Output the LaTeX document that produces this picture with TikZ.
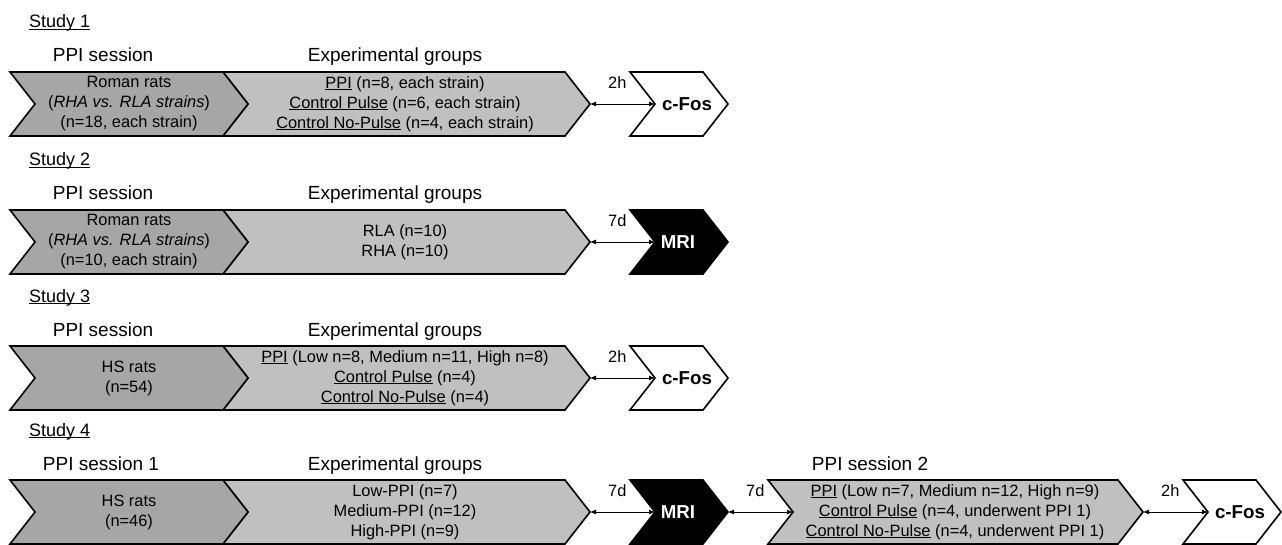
\documentclass[tikz,border=0pt]{standalone}
\usepackage{fontspec}
\setmainfont{Liberation Sans}
\usepackage{xcolor}
\usepackage{tikz}
\usetikzlibrary{arrows.meta}

\definecolor{darkgrey}{RGB}{166,166,166}
\definecolor{lightgrey}{RGB}{192,192,192}
\newcommand{\uln}[1]{\underline{\smash{#1}}}
\newcommand{\chevron}[5]{%
\draw[chev, fill=#5] (#2,#4) -- ({#3-25},#4) -- (#3,{#4+32}) -- ({#3-25},{#4+64}) -- (#2,{#4+64}) -- ({#2+25},{#4+32}) -- cycle;
\coordinate (#1-in) at ({#2+25},{#4+32});
\coordinate (#1-tip) at (#3,{#4+32});}

\begin{document}
\begin{tikzpicture}[x=1pt, y=-1pt,
chev/.style={draw=black, line width=1.6pt},
boxtext/.style={align=center, font=\fontsize{16.4}{20}\selectfont, inner sep=0pt},
heading/.style={anchor=base, font=\fontsize{19}{23}\selectfont, inner sep=0pt},
studylabel/.style={anchor=base west, font=\fontsize{18}{22}\selectfont, inner sep=0pt},
endtext/.style={font=\fontsize{18.7}{22}\selectfont\bfseries, inner sep=0pt},
gap/.style={<->, >={Latex[length=6pt,width=5pt]}, line width=0.8pt},
gaplabel/.style={pos=0.42, yshift=21pt, font=\fontsize{16.4}{20}\selectfont, inner sep=0pt}]
\useasboundingbox (0,0) rectangle (1282,545);

\node[studylabel] (study1) at (29,28) {\uln{Study 1}};
\node[heading] (ppi1) at (103,62) {PPI session};
\node[heading] (exp1) at (395,62) {Experimental groups};
\chevron{r1b}{223}{590}{72}{lightgrey}
\chevron{r1a}{10}{248}{72}{darkgrey}
\chevron{r1c}{630}{728}{72}{white}
\node[boxtext] (rats1) at (129,104) {Roman rats\\(\textit{RHA vs. RLA strains})\\(n=18, each strain)};
\node[boxtext] (groups1) at (405,104) {\uln{PPI} (n=8, each strain)\\\uln{Control Pulse} (n=6, each strain)\\\uln{Control No-Pulse} (n=4, each strain)};
\node[endtext] (fos1) at (687,104) {c-Fos};
\draw[gap] (r1b-tip) -- node[gaplabel] (wait1) {2h} (r1c-in);

\node[studylabel] (study2) at (29,166) {\uln{Study 2}};
\node[heading] (ppi2) at (103,200) {PPI session};
\node[heading] (exp2) at (395,200) {Experimental groups};
\chevron{r2b}{223}{590}{210}{lightgrey}
\chevron{r2a}{10}{248}{210}{darkgrey}
\chevron{r2c}{630}{728}{210}{black}
\node[boxtext] (rats2) at (129,242) {Roman rats\\(\textit{RHA vs. RLA strains})\\(n=10, each strain)};
\node[boxtext] (groups2) at (405,242) {RLA (n=10)\\RHA (n=10)};
\node[endtext, text=white] (mri2) at (678,242) {MRI};
\draw[gap] (r2b-tip) -- node[gaplabel] (wait2) {7d} (r2c-in);

\node[studylabel] (study3) at (29,302) {\uln{Study 3}};
\node[heading] (ppi3) at (103,336) {PPI session};
\node[heading] (exp3) at (395,336) {Experimental groups};
\chevron{r3b}{223}{590}{346}{lightgrey}
\chevron{r3a}{10}{248}{346}{darkgrey}
\chevron{r3c}{630}{728}{346}{white}
\node[boxtext] (rats3) at (129,378) {HS rats\\(n=54)};
\node[boxtext] (groups3) at (405,378) {\uln{PPI} (Low n=8, Medium n=11, High n=8)\\\uln{Control Pulse} (n=4)\\\uln{Control No-Pulse} (n=4)};
\node[endtext] (fos3) at (687,378) {c-Fos};
\draw[gap] (r3b-tip) -- node[gaplabel] (wait3) {2h} (r3c-in);

\node[studylabel] (study4) at (29,436) {\uln{Study 4}};
\node[heading] (ppi4) at (101,470) {PPI session 1};
\node[heading] (exp4) at (395,470) {Experimental groups};
\node[heading] (second4) at (870,470) {PPI session 2};
\chevron{r4b}{223}{590}{480}{lightgrey}
\chevron{r4a}{10}{248}{480}{darkgrey}
\chevron{r4c}{630}{728}{480}{black}
\chevron{r4d}{768}{1143}{480}{lightgrey}
\chevron{r4e}{1183}{1281}{480}{white}
\node[boxtext] (rats4) at (129,512) {HS rats\\(n=46)};
\node[boxtext] (groups4) at (405,512) {Low-PPI (n=7)\\Medium-PPI (n=12)\\High-PPI (n=9)};
\node[endtext, text=white] (mri4) at (678,512) {MRI};
\node[boxtext] (retest4) at (955,512) {\uln{PPI} (Low n=7, Medium n=12, High n=9)\\\uln{Control Pulse} (n=4, underwent PPI 1)\\\uln{Control No-Pulse} (n=4, underwent PPI 1)};
\node[endtext] (fos4) at (1240,512) {c-Fos};
\draw[gap] (r4b-tip) -- node[gaplabel] (wait4a) {7d} (r4c-in);
\draw[gap] (r4c-tip) -- node[gaplabel] (wait4b) {7d} (r4d-in);
\draw[gap] (r4d-tip) -- node[gaplabel] (wait4c) {2h} (r4e-in);
\end{tikzpicture}
\end{document}
